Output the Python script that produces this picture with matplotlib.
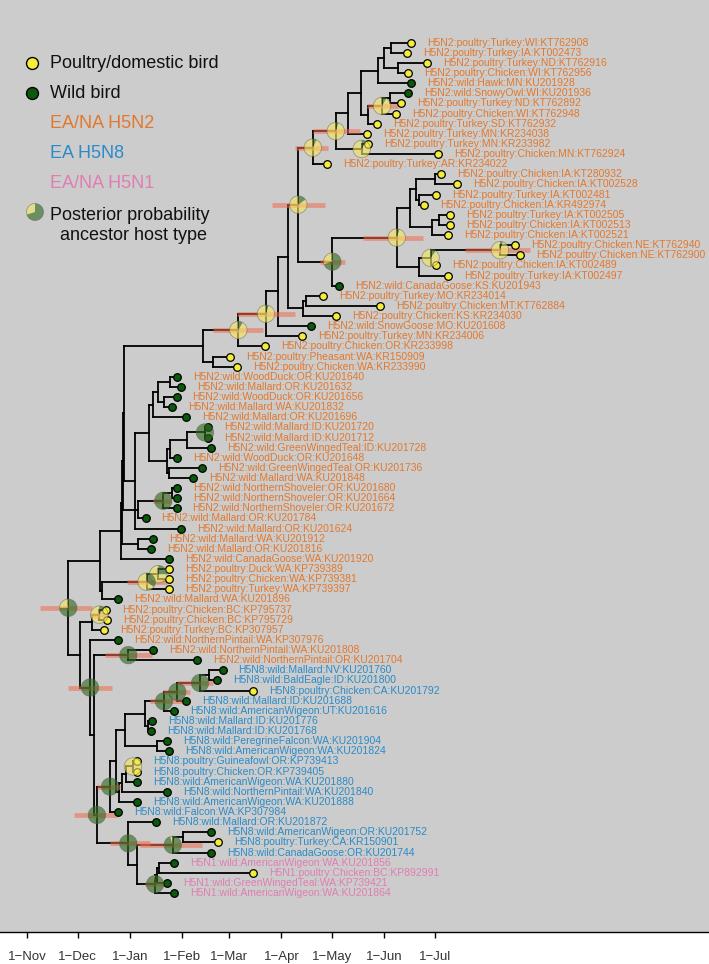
import matplotlib.pyplot as plt
from matplotlib.patches import Wedge
from matplotlib import transforms

plt.rcParams['font.family'] = ['Liberation Sans', 'DejaVu Sans']

# 叶子（自上而下），日期为距 2014-11-01 的天数
leaf_names = [
    "H5N2:poultry:Turkey:WI:KT762908", "H5N2:poultry:Turkey:IA:KT002473",
    "H5N2:poultry:Turkey:ND:KT762916", "H5N2:poultry:Chicken:WI:KT762956",
    "H5N2:wild:Hawk:MN:KU201928", "H5N2:wild:SnowyOwl:WI:KU201936",
    "H5N2:poultry:Turkey:ND:KT762892", "H5N2:poultry:Chicken:WI:KT762948",
    "H5N2:poultry:Turkey:SD:KT762932", "H5N2:poultry:Turkey:MN:KR234038",
    "H5N2:poultry:Turkey:MN:KR233982", "H5N2:poultry:Chicken:MN:KT762924",
    "H5N2:poultry:Turkey:AR:KR234022", "H5N2:poultry:Chicken:IA:KT280932",
    "H5N2:poultry:Chicken:IA:KT002528", "H5N2:poultry:Turkey:IA:KT002481",
    "H5N2:poultry:Chicken:IA:KR492974", "H5N2:poultry:Turkey:IA:KT002505",
    "H5N2:poultry:Chicken:IA:KT002513", "H5N2:poultry:Chicken:IA:KT002521",
    "H5N2:poultry:Chicken:NE:KT762940", "H5N2:poultry:Chicken:NE:KT762900",
    "H5N2:poultry:Chicken:IA:KT002489", "H5N2:poultry:Turkey:IA:KT002497",
    "H5N2:wild:CanadaGoose:KS:KU201943", "H5N2:poultry:Turkey:MO:KR234014",
    "H5N2:poultry:Chicken:MT:KT762884", "H5N2:poultry:Chicken:KS:KR234030",
    "H5N2:wild:SnowGoose:MO:KU201608", "H5N2:poultry:Turkey:MN:KR234006",
    "H5N2:poultry:Chicken:OR:KR233998", "H5N2:poultry:Pheasant:WA:KR150909",
    "H5N2:poultry:Chicken:WA:KR233990", "H5N2:wild:WoodDuck:OR:KU201640",
    "H5N2:wild:Mallard:OR:KU201632", "H5N2:wild:WoodDuck:OR:KU201656",
    "H5N2:wild:Mallard:WA:KU201832", "H5N2:wild:Mallard:OR:KU201696",
    "H5N2:wild:Mallard:ID:KU201720", "H5N2:wild:Mallard:ID:KU201712",
    "H5N2:wild:GreenWingedTeal:ID:KU201728", "H5N2:wild:WoodDuck:OR:KU201648",
    "H5N2:wild:GreenWingedTeal:OR:KU201736", "H5N2:wild:Mallard:WA:KU201848",
    "H5N2:wild:NorthernShoveler:OR:KU201680", "H5N2:wild:NorthernShoveler:OR:KU201664",
    "H5N2:wild:NorthernShoveler:OR:KU201672", "H5N2:wild:Mallard:OR:KU201784",
    "H5N2:wild:Mallard:OR:KU201624", "H5N2:wild:Mallard:WA:KU201912",
    "H5N2:wild:Mallard:OR:KU201816", "H5N2:wild:CanadaGoose:WA:KU201920",
    "H5N2:poultry:Duck:WA:KP739389", "H5N2:poultry:Chicken:WA:KP739381",
    "H5N2:poultry:Turkey:WA:KP739397", "H5N2:wild:Mallard:WA:KU201896",
    "H5N2:poultry:Chicken:BC:KP795737", "H5N2:poultry:Chicken:BC:KP795729",
    "H5N2:poultry:Turkey:BC:KP307957", "H5N2:wild:NorthernPintail:WA:KP307976",
    "H5N2:wild:NorthernPintail:WA:KU201808", "H5N2:wild:NorthernPintail:OR:KU201704",
    "H5N8:wild:Mallard:NV:KU201760", "H5N8:wild:BaldEagle:ID:KU201800",
    "H5N8:poultry:Chicken:CA:KU201792", "H5N8:wild:Mallard:ID:KU201688",
    "H5N8:wild:AmericanWigeon:UT:KU201616", "H5N8:wild:Mallard:ID:KU201776",
    "H5N8:wild:Mallard:ID:KU201768", "H5N8:wild:PeregrineFalcon:WA:KU201904",
    "H5N8:wild:AmericanWigeon:WA:KU201824", "H5N8:poultry:Guineafowl:OR:KP739413",
    "H5N8:poultry:Chicken:OR:KP739405", "H5N8:wild:AmericanWigeon:WA:KU201880",
    "H5N8:wild:NorthernPintail:WA:KU201840", "H5N8:wild:AmericanWigeon:WA:KU201888",
    "H5N8:wild:Falcon:WA:KP307984", "H5N8:wild:Mallard:OR:KU201872",
    "H5N8:wild:AmericanWigeon:OR:KU201752", "H5N8:poultry:Turkey:CA:KR150901",
    "H5N8:wild:CanadaGoose:OR:KU201744", "H5N1:wild:AmericanWigeon:WA:KU201856",
    "H5N1:poultry:Chicken:BC:KP892991", "H5N1:wild:GreenWingedTeal:WA:KP739421",
    "H5N1:wild:AmericanWigeon:WA:KU201864",
]
leaf_days = [
    227.7, 225.3, 237.6, 225.9, 227.7, 225.9, 221.8, 219.0, 207.9, 201.6,
    202.6, 244.1, 177.9, 245.5, 255.0, 242.6, 235.8, 251.0, 251.0, 250.0,
    289.6, 292.6, 242.7, 249.7, 185.2, 175.5, 209.7, 183.2, 168.5, 163.4,
    141.2, 120.5, 124.8, 89.2, 91.2, 88.8, 85.9, 94.4, 107.6, 107.6,
    109.0, 89.2, 103.7, 98.3, 89.2, 89.2, 88.8, 70.4, 91.4, 75.0,
    73.6, 84.5, 84.5, 84.5, 84.5, 54.2, 46.9, 47.3, 45.9, 53.8,
    75.0, 101.1, 116.1, 112.6, 134.3, 94.2, 87.2, 74.0, 73.6, 82.9,
    84.3, 65.1, 65.1, 65.1, 82.9, 65.1, 54.2, 76.4, 109.0, 113.5,
    109.0, 87.2, 134.3, 82.9, 87.2,
]

# 内部节点（子节点先于父节点），叶子用 1 起的序号
node_names = ["A", "B", "C", "D", "E", "F", "G", "H", "I", "J", "K", "L",
              "T1", "T2", "T3", "T4", "T5", "P", "S", "R", "Q", "O", "N", "M",
              "W1", "W", "V", "U", "X", "Y", "Z", "AA",
              "G1", "G2", "G3", "G4", "G5", "G6", "G7", "G8", "G9", "BB", "CC",
              "G10", "G11", "DD", "TOP", "LL", "EE", "MM1", "MM",
              "F53", "FF", "OO", "NN",
              "BC1", "BC2", "VV",
              "A1", "A2", "A3", "A4", "A6", "A5", "A7", "A8",
              "B1", "B2", "B3", "B4", "C0", "C1",
              "E1", "D4", "H1", "H2", "H3", "D3", "D2", "D1",
              "QQ", "Z1", "X1", "PP"]
node_days = [216.0, 220.4, 212.0, 208.5, 215.4, 210.7, 202.6, 198.2, 190.7, 198.6, 183.2, 169.6,
             242.1, 232.8, 230.9, 244.7, 240.2, 227.3, 280.7, 239.5, 232.8, 219.4, 181.2, 161.0,
             165.6, 163.6, 155.1, 149.1, 141.8, 125.4, 110.6, 104.6,
             84.9, 81.3, 77.9, 74.8, 105.6, 95.0, 84.9, 84.0, 82.9, 72.6, 64.1,
             85.9, 80.9, 66.1, 57.6, 56.8, 66.1, 56.2, 55.6,
             77.9, 71.0, 44.3, 43.3,
             42.9, 38.4, 60.1,
             108.2, 102.7, 89.2, 81.3, 71.8, 70.0, 77.0, 58.2,
             62.9, 58.8, 56.2, 54.3, 52.8, 49.3,
             92.4, 86.5, 78.2, 77.2, 76.0, 65.1, 60.1, 41.5,
             39.8, 37.4, 31.5, 24.5]
node_kids = [(1, 2), (3, 4), ("A", "B"), ("C", 5), (6, 7), ("E", 8), ("F", 9), ("D", "G"),
             ("H", 10), (11, 12), ("I", "J"), ("K", 13),
             (14, 15), (16, 17), ("T1", "T2"), (18, 19), ("T4", 20), ("T3", "T5"),
             (21, 22), ("S", 23), ("R", 24), ("P", "Q"), ("O", 25), ("L", "N"),
             (26, 27), ("W1", 28), ("M", "W"), ("V", 29), ("U", 30), ("X", 31), (32, 33), ("Y", "Z"),
             (34, 35), (36, 37), ("G1", "G2"), ("G3", 38), (39, 40), ("G5", 41), ("G6", 42),
             (43, 44), ("G7", "G8"), ("G4", "G9"), ("BB", 49),
             (45, 46), ("G10", 47), ("G11", 48), ("AA", "CC"), ("TOP", "DD"), (50, 51),
             ("LL", "EE"), ("MM1", 52),
             (53, 54), ("F53", 55), ("FF", 56), ("MM", "OO"),
             (57, 58), ("BC1", 59), (61, 62),
             (63, 64), ("A1", 65), ("A2", 66), ("A3", 67), (68, 69), ("A4", "A6"), (70, 71), ("A5", "A7"),
             (72, 73), ("B1", 74), ("B2", 75), ("B3", 76), ("A8", "B4"), ("C0", 77),
             (79, 80), ("E1", 81), (82, 83), ("H1", 84), ("H2", 85), ("D4", "H3"), (78, "D3"), ("C1", "D2"),
             ("VV", "D1"), (60, "QQ"), ("BC2", "Z1"), ("NN", "X1")]

# 祖先宿主后验概率（家禽比例）
pie_nodes = ["F", "K", "J", "L", "M", "N", "O", "R", "S", "X", "Y",
             "G5", "G11", "F53", "FF", "PP", "BC1", "VV", "Z1",
             "A2", "A3", "A4", "B1", "C1", "D1", "D2", "D4", "H3"]
pie_poultry = [0.92, 0.95, 0.92, 0.93, 0.85, 0.3, 0.95, 0.9, 0.95, 0.95, 0.92,
               0.0, 0.02, 0.75, 0.65, 0.25, 0.9, 0.0, 0.0,
               0.0, 0.0, 0.0, 1.0, 0.0, 0.0, 0.0, 0.05, 0.02]

# 节点时间 95% HPD
hpd_nodes = ["F", "K", "L", "M", "N", "O", "S", "X", "Y", "G11", "FF", "PP", "BC1",
             "VV", "Z1", "A2", "A3", "A4", "C1", "D1", "D2", "D4", "H3"]
hpd_low = [201.6, 169.7, 159.1, 145.2, 173.9, 199.4, 259.9, 124.5, 110.4, 74.8, 59.2, 7.7, 37.4,
           46.3, 24.3, 88.8, 80.7, 73.0, 41.4, 27.9, 49.3, 67.1, 70.0]
hpd_high = [220.4, 197.6, 178.6, 176.9, 188.7, 235.0, 298.5, 159.1, 140.1, 84.9, 82.9, 38.4, 48.1,
            74.0, 50.3, 110.4, 96.7, 93.8, 55.2, 53.4, 73.0, 103.7, 81.9]

tick_days = [0, 30, 61, 92, 120, 151, 181, 212, 242]
tick_labels = ["1\u2212Nov", "1\u2212Dec", "1\u2212Jan", "1\u2212Feb", "1\u2212Mar",
               "1\u2212Apr", "1\u2212May", "1\u2212Jun", "1\u2212Jul"]

subtype_colors = {"H5N2": "#e2782e", "H5N8": "#2a8bc8", "H5N1": "#e07db3"}
host_colors = {"poultry": "#f4ee3a", "wild": "#0b5a0b"}
pie_yellow = "#f5e663"
pie_green = "#2e6b22"

fig = plt.figure(figsize=(7.09, 9.64), dpi=100)
ax = fig.add_axes([0, 32 / 964, 1, 932 / 964])
ax.set_facecolor("#cccccc")
ax.set_xlim(-16.02, 404.7)
ax.set_ylim(87.85, -4.22)
for s in ["top", "left", "right"]:
    ax.spines[s].set_visible(False)
ax.spines["bottom"].set_linewidth(1.0)
ax.set_yticks([])
ax.set_xticks(tick_days)
ax.set_xticklabels(tick_labels, fontsize=9.5, color="#333333")
ax.tick_params(axis="x", length=4.5, width=1, pad=9)


def draw_pie(x, y, frac, r, base):
    tr = transforms.Affine2D().scale(r) + transforms.ScaledTranslation(x, y, base)
    parts = [(90, 90 + 360 * frac, pie_yellow), (90 + 360 * frac, 450, pie_green)]
    for t1, t2, c in parts:
        if t2 - t1 > 0.5:
            fig.add_artist(Wedge((0, 0), 1, t1, t2, facecolor=c, edgecolor="none",
                                 alpha=0.62, transform=tr, zorder=5))
    fig.add_artist(Wedge((0, 0), 1, 0, 360, facecolor="none", edgecolor=(0.35, 0.35, 0.3, 0.5),
                         lw=0.6, transform=tr, zorder=5))


# 枝
pos = {}
for i, d in enumerate(leaf_days):
    pos[i + 1] = (d, i)
for name, d, kids in zip(node_names, node_days, node_kids):
    ys = [pos[k][1] for k in kids]
    pos[name] = (d, (min(ys) + max(ys)) / 2)
    ax.plot([d, d], [min(ys), max(ys)], color="black", lw=1.3, zorder=2,
            solid_capstyle="projecting")
    for k in kids:
        ax.plot([d, pos[k][0]], [pos[k][1], pos[k][1]], color="black", lw=1.3, zorder=2,
                solid_capstyle="projecting")

for n, lo, hi in zip(hpd_nodes, hpd_low, hpd_high):
    ax.plot([lo, hi], [pos[n][1], pos[n][1]], color="#f06a4a", lw=3.4, alpha=0.55,
            solid_capstyle="butt", zorder=3)

for n, p in zip(pie_nodes, pie_poultry):
    draw_pie(pos[n][0], pos[n][1], p, 8.7, ax.transData)

# 叶
for i, (name, d) in enumerate(zip(leaf_names, leaf_days)):
    sub, host = name.split(":")[:2]
    ax.scatter([d], [i], s=30, color=host_colors[host], edgecolor="black", lw=0.9, zorder=6)
    ax.annotate(name, (d, i), xytext=(11.5, 0), textcoords="offset points", va="center",
                ha="left", fontsize=7.5, color=subtype_colors[sub], zorder=6)

# 图例
H = 964.0
W = 709.0
fig.add_artist(plt.Line2D([32.3 / W], [1 - 62.7 / H], marker="o", ms=8.6, mfc=host_colors["poultry"],
                          mec="black", mew=1.0, transform=fig.transFigure))
fig.add_artist(plt.Line2D([32.3 / W], [1 - 93.3 / H], marker="o", ms=8.6, mfc=host_colors["wild"],
                          mec="black", mew=1.0, transform=fig.transFigure))
leg_text = [("Poultry/domestic bird", 63, "#111111"), ("Wild bird", 93, "#111111"),
            ("EA/NA H5N2", 124, subtype_colors["H5N2"]), ("EA H5N8", 154, subtype_colors["H5N8"]),
            ("EA/NA H5N1", 184, subtype_colors["H5N1"]), ("Posterior probability", 215, "#111111")]
for t, y, c in leg_text:
    fig.text(50 / W, 1 - y / H, t, fontsize=13, color=c, va="center", ha="left")
fig.text(60 / W, 1 - 235 / H, "ancestor host type", fontsize=13, color="#111111",
         va="center", ha="left")
draw_pie(35 / W, 1 - 212 / H, 0.3, 8.5, fig.transFigure)

fig.savefig("out.png", dpi=100)
